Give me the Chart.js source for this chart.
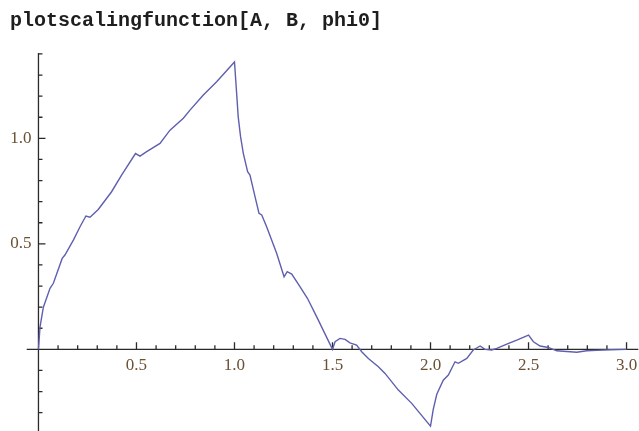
<!DOCTYPE html>
<html>
<head>
<meta charset="utf-8">
<script src="https://cdn.jsdelivr.net/npm/chart.js@4"></script>
<style>
  html, body { margin: 0; padding: 0; background: #fff; overflow: hidden; }
  #wrap { position: relative; width: 639px; height: 431px; }
  #phiChart { position: absolute; left: 0; top: 0; }
  #title {
    position: absolute; left: 10px; top: 11px;
    font: bold 20px/20px "Liberation Mono", "Courier New", monospace;
    color: #1e1e1e; white-space: pre;
  }
</style>
</head>
<body>
<div id="wrap">
  <canvas id="phiChart" width="639" height="431"></canvas>
  <div id="title">plotscalingfunction[A, B, phi0]</div>
</div>
<script>
// scaling function phi, sampled along [0, 3]
const xValues = [
  0, 0.008, 0.025, 0.059, 0.076, 0.121, 0.135, 0.178, 0.212, 0.242,
  0.263, 0.305, 0.373, 0.424, 0.495, 0.518, 0.552, 0.62, 0.671, 0.739,
  0.773, 0.841, 0.909, 1.0, 1.011, 1.019, 1.031, 1.045, 1.067, 1.079,
  1.105, 1.125, 1.139, 1.164, 1.215, 1.253, 1.269, 1.292, 1.334, 1.372,
  1.419, 1.5, 1.513, 1.538, 1.564, 1.589, 1.623, 1.649, 1.683, 1.734,
  1.768, 1.836, 1.904, 2.0, 2.014, 2.032, 2.065, 2.091, 2.125, 2.142,
  2.185, 2.218, 2.253, 2.278, 2.312, 2.338, 2.389, 2.44, 2.5, 2.525,
  2.559, 2.601, 2.644, 2.746, 2.797, 2.848, 2.92, 3.0
];
const yValues = [
  0, 0.107, 0.2, 0.289, 0.313, 0.431, 0.447, 0.518, 0.581, 0.632,
  0.626, 0.663, 0.747, 0.826, 0.928, 0.916, 0.937, 0.976, 1.039, 1.095,
  1.134, 1.205, 1.268, 1.362, 1.213, 1.102, 1.008, 0.929, 0.842, 0.826,
  0.723, 0.645, 0.637, 0.581, 0.455, 0.344, 0.368, 0.357, 0.297, 0.242,
  0.155, 0.0, 0.036, 0.052, 0.047, 0.031, 0.02, -0.011, -0.043, -0.082,
  -0.114, -0.193, -0.256, -0.364, -0.284, -0.213, -0.146, -0.122, -0.059, -0.066,
  -0.043, -0.003, 0.016, 0.0, -0.003, 0.005, 0.025, 0.044, 0.068, 0.036,
  0.016, 0.009, -0.007, -0.014, -0.007, -0.005, -0.002, 0
];

// plot range and tick spacing
const xRange = [-0.06, 3.06];
const yRange = [-0.387, 1.405];
const tickStep = 0.1;
const labelStep = 0.5;

const axisColor = '#2a2a2a';
const labelColor = '#6a5034';
const labelFont = { family: '"Liberation Serif", "Times New Roman", serif', size: 17 };

function isMajor(v) {
  const r = v / labelStep;
  return Math.abs(r - Math.round(r)) < 1e-6;
}

// one tick every 0.1 across the scale
function stepTicks(scale) {
  const ticks = [];
  const first = Math.ceil(scale.min / tickStep - 1e-6);
  const last = Math.floor(scale.max / tickStep + 1e-6);
  for (let i = first; i <= last; i++) {
    ticks.push({ value: +(i * tickStep).toFixed(2) });
  }
  scale.ticks = ticks;
}

function tickLabel(value) {
  if (Math.abs(value) < 1e-9 || !isMajor(value)) return '';
  return value.toFixed(1);
}

// axes sit inside the plot, so they take no room from the layout
function noRoom(scale) {
  if (scale.isHorizontal()) scale.height = 0;
  else scale.width = 0;
  scale.paddingLeft = scale.paddingRight = 0;
  scale.paddingTop = scale.paddingBottom = 0;
}

// axes crossing at the origin, with ticks pointing into the plot
const originAxes = {
  id: 'originAxes',
  beforeDatasetsDraw(chart) {
    const { ctx, chartArea, scales: { x, y } } = chart;
    const x0 = x.getPixelForValue(0);
    const y0 = y.getPixelForValue(0);
    ctx.save();
    ctx.strokeStyle = axisColor;
    ctx.lineWidth = 1.3;
    ctx.beginPath();
    ctx.moveTo(chartArea.left, y0);
    ctx.lineTo(chartArea.right, y0);
    ctx.moveTo(x0, chartArea.top);
    ctx.lineTo(x0, chartArea.bottom);
    x.ticks.forEach(t => {
      if (Math.abs(t.value) < 1e-9) return;
      const px = x.getPixelForValue(t.value);
      ctx.moveTo(px, y0);
      ctx.lineTo(px, y0 - (isMajor(t.value) ? 7 : 4));
    });
    y.ticks.forEach(t => {
      if (Math.abs(t.value) < 1e-9) return;
      const py = y.getPixelForValue(t.value);
      ctx.moveTo(x0, py);
      ctx.lineTo(x0 + (isMajor(t.value) ? 7 : 4), py);
    });
    ctx.stroke();
    ctx.restore();
  }
};

const points = xValues.map((x, i) => ({ x: x, y: yValues[i] }));

new Chart(document.getElementById('phiChart'), {
  type: 'scatter',
  data: {
    datasets: [{
      data: points,
      showLine: true,
      borderColor: '#5f5fb0',
      borderWidth: 1.4,
      pointRadius: 0,
      tension: 0,
      fill: false
    }]
  },
  options: {
    responsive: false,
    animation: false,
    layout: { padding: { left: 26.7, right: 0.7, top: 52.9, bottom: 0 } },
    plugins: {
      legend: { display: false },
      tooltip: { enabled: false }
    },
    scales: {
      x: {
        type: 'linear',
        min: xRange[0],
        max: xRange[1],
        position: { y: 0 },
        afterBuildTicks: stepTicks,
        afterFit: noRoom,
        grid: { display: false, drawTicks: false },
        border: { display: false },
        ticks: {
          autoSkip: false,
          maxRotation: 0,
          padding: 6,
          color: labelColor,
          font: labelFont,
          callback: tickLabel
        }
      },
      y: {
        type: 'linear',
        min: yRange[0],
        max: yRange[1],
        // labels hang a little left of the vertical axis line
        position: { x: -0.035 },
        afterBuildTicks: stepTicks,
        afterFit: noRoom,
        grid: { display: false, drawTicks: false },
        border: { display: false },
        ticks: {
          autoSkip: false,
          color: labelColor,
          font: labelFont,
          callback: tickLabel
        }
      }
    }
  },
  plugins: [originAxes]
});
</script>
</body>
</html>
